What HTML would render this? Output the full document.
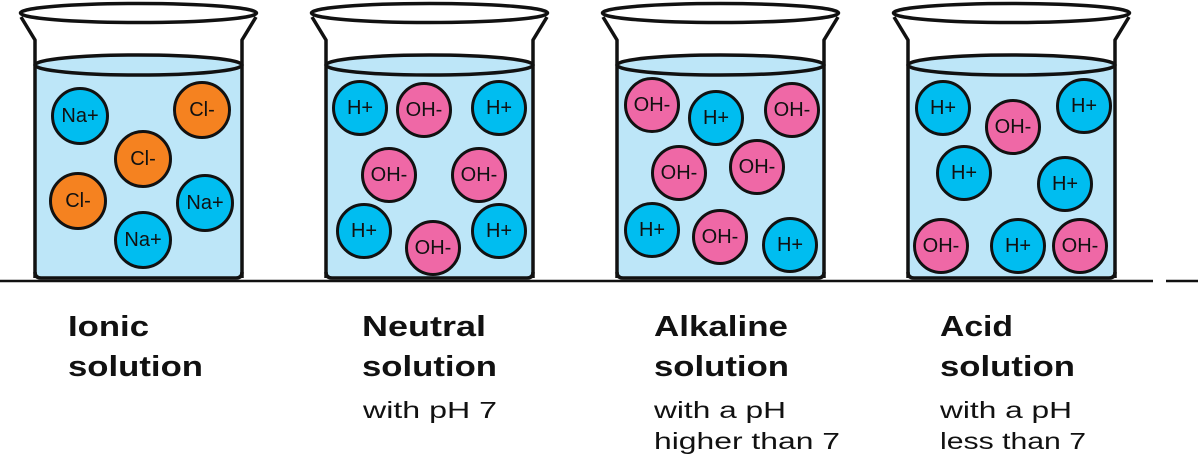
<!DOCTYPE html>
<html><head><meta charset="utf-8"><style>
html,body{margin:0;padding:0;background:#fff;}
svg{display:block;}
.ion text{font-family:"Liberation Sans",sans-serif;font-size:20px;text-anchor:middle;dominant-baseline:central;fill:#111;}
.t{font-family:"Liberation Sans",sans-serif;fill:#111;}
.b{font-weight:bold;font-size:29px;}
.s{font-size:23px;}
</style></head><body>
<svg width="1200" height="465" viewBox="0 0 1200 465" xmlns="http://www.w3.org/2000/svg">
<defs>
<g id="beaker">
  <path d="M35 65 L242 65 L242 272 Q242 278 236 278 L41 278 Q35 278 35 272 Z" fill="#bde6f8"/>
  <ellipse cx="138.5" cy="65" rx="103.5" ry="10" fill="#bde6f8" stroke="#111" stroke-width="3.5"/>
  <path d="M35 278 L35 40 L21 17 M242 278 L242 40 L256 17" fill="none" stroke="#111" stroke-width="3.5" stroke-linejoin="round"/>
  <path d="M35 272 Q35 278 41 278 L236 278 Q242 278 242 272" fill="none" stroke="#111" stroke-width="3.5"/>
  <ellipse cx="138.5" cy="13" rx="118" ry="9.5" fill="#fff" stroke="#111" stroke-width="3.5"/>
</g>
</defs>
<line x1="0" y1="281" x2="1153" y2="281" stroke="#111" stroke-width="2.5"/>
<line x1="1166" y1="281" x2="1198" y2="281" stroke="#111" stroke-width="2.5"/>
<use href="#beaker"/>
<use href="#beaker" transform="translate(291,0)"/>
<use href="#beaker" transform="translate(582,0)"/>
<use href="#beaker" transform="translate(873,0)"/>
<g class="ion" stroke="#111" stroke-width="3">
<g><circle cx="80" cy="116" r="27.5" fill="#00bdf0"/><text x="80" y="116" stroke="none">Na+</text></g>
<g><circle cx="202" cy="110" r="27.5" fill="#f58220"/><text x="202" y="110" stroke="none">Cl-</text></g>
<g><circle cx="143" cy="159" r="27.5" fill="#f58220"/><text x="143" y="159" stroke="none">Cl-</text></g>
<g><circle cx="78" cy="201" r="27.5" fill="#f58220"/><text x="78" y="201" stroke="none">Cl-</text></g>
<g><circle cx="205" cy="203" r="27.5" fill="#00bdf0"/><text x="205" y="203" stroke="none">Na+</text></g>
<g><circle cx="143" cy="240" r="27.5" fill="#00bdf0"/><text x="143" y="240" stroke="none">Na+</text></g>
<g><circle cx="360" cy="108" r="26.5" fill="#00bdf0"/><text x="360" y="108" stroke="none">H+</text></g>
<g><circle cx="424" cy="110" r="26.5" fill="#ef68a6"/><text x="424" y="110" stroke="none">OH-</text></g>
<g><circle cx="499" cy="108" r="26.5" fill="#00bdf0"/><text x="499" y="108" stroke="none">H+</text></g>
<g><circle cx="389" cy="175" r="26.5" fill="#ef68a6"/><text x="389" y="175" stroke="none">OH-</text></g>
<g><circle cx="479" cy="175" r="26.5" fill="#ef68a6"/><text x="479" y="175" stroke="none">OH-</text></g>
<g><circle cx="364" cy="231" r="26.5" fill="#00bdf0"/><text x="364" y="231" stroke="none">H+</text></g>
<g><circle cx="433" cy="248" r="26.5" fill="#ef68a6"/><text x="433" y="248" stroke="none">OH-</text></g>
<g><circle cx="499" cy="231" r="26.5" fill="#00bdf0"/><text x="499" y="231" stroke="none">H+</text></g>
<g><circle cx="652" cy="105" r="26.5" fill="#ef68a6"/><text x="652" y="105" stroke="none">OH-</text></g>
<g><circle cx="716" cy="118" r="26.5" fill="#00bdf0"/><text x="716" y="118" stroke="none">H+</text></g>
<g><circle cx="792" cy="110" r="26.5" fill="#ef68a6"/><text x="792" y="110" stroke="none">OH-</text></g>
<g><circle cx="679" cy="173" r="26.5" fill="#ef68a6"/><text x="679" y="173" stroke="none">OH-</text></g>
<g><circle cx="757" cy="167" r="26.5" fill="#ef68a6"/><text x="757" y="167" stroke="none">OH-</text></g>
<g><circle cx="652" cy="230" r="26.5" fill="#00bdf0"/><text x="652" y="230" stroke="none">H+</text></g>
<g><circle cx="720" cy="237" r="26.5" fill="#ef68a6"/><text x="720" y="237" stroke="none">OH-</text></g>
<g><circle cx="790" cy="245" r="26.5" fill="#00bdf0"/><text x="790" y="245" stroke="none">H+</text></g>
<g><circle cx="943" cy="108" r="26.5" fill="#00bdf0"/><text x="943" y="108" stroke="none">H+</text></g>
<g><circle cx="1013" cy="127" r="26.5" fill="#ef68a6"/><text x="1013" y="127" stroke="none">OH-</text></g>
<g><circle cx="1084" cy="106" r="26.5" fill="#00bdf0"/><text x="1084" y="106" stroke="none">H+</text></g>
<g><circle cx="964" cy="173" r="26.5" fill="#00bdf0"/><text x="964" y="173" stroke="none">H+</text></g>
<g><circle cx="1065" cy="184" r="26.5" fill="#00bdf0"/><text x="1065" y="184" stroke="none">H+</text></g>
<g><circle cx="941" cy="246" r="26.5" fill="#ef68a6"/><text x="941" y="246" stroke="none">OH-</text></g>
<g><circle cx="1018" cy="246" r="26.5" fill="#00bdf0"/><text x="1018" y="246" stroke="none">H+</text></g>
<g><circle cx="1080" cy="246" r="26.5" fill="#ef68a6"/><text x="1080" y="246" stroke="none">OH-</text></g>
</g>
<g class="t">
<text class="b" x="68" y="336" textLength="81" lengthAdjust="spacingAndGlyphs">Ionic</text>
<text class="b" x="68" y="376" textLength="135" lengthAdjust="spacingAndGlyphs">solution</text>
<text class="b" x="362" y="336" textLength="124" lengthAdjust="spacingAndGlyphs">Neutral</text>
<text class="b" x="362" y="376" textLength="135" lengthAdjust="spacingAndGlyphs">solution</text>
<text class="s" x="363" y="418" textLength="134" lengthAdjust="spacingAndGlyphs">with pH 7</text>
<text class="b" x="654" y="336" textLength="134" lengthAdjust="spacingAndGlyphs">Alkaline</text>
<text class="b" x="654" y="376" textLength="135" lengthAdjust="spacingAndGlyphs">solution</text>
<text class="s" x="654" y="418" textLength="132" lengthAdjust="spacingAndGlyphs">with a pH</text>
<text class="s" x="654" y="449" textLength="186" lengthAdjust="spacingAndGlyphs">higher than 7</text>
<text class="b" x="940" y="336" textLength="73" lengthAdjust="spacingAndGlyphs">Acid</text>
<text class="b" x="940" y="376" textLength="135" lengthAdjust="spacingAndGlyphs">solution</text>
<text class="s" x="940" y="418" textLength="132" lengthAdjust="spacingAndGlyphs">with a pH</text>
<text class="s" x="940" y="449" textLength="146" lengthAdjust="spacingAndGlyphs">less than 7</text>
</g>
</svg>
</body></html>
